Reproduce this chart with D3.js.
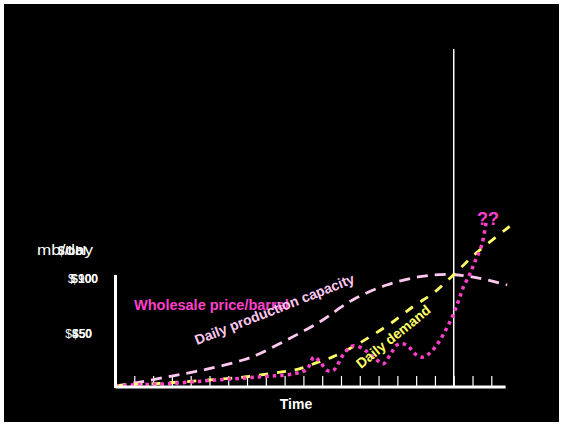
<!DOCTYPE html>
<html><head><meta charset="utf-8">
<script src="https://cdn.jsdelivr.net/npm/d3@7/dist/d3.min.js"></script>
<style>html,body{margin:0;padding:0;background:#fff}</style>
</head><body>
<script>
// Time index (tick units)
const timeTicks = d3.range(1, 21);
const marketTime = 18; // vertical marker

// Daily production capacity (mb/day)
const capacityT = [0, 1.13, 2.99, 4.92, 6.79, 7.51, 9.11, 10.88, 12.64, 14.43, 16.2, 17.8, 19.4, 20.84];
const capacityV = [0, 27, 81, 138, 211, 251, 373, 521, 700, 819, 886, 905, 873, 819];

// Daily demand (mb/day)
const demandT = [0, 1.3, 2.37, 3.43, 5.03, 6.98, 8.85, 9.82, 10.71, 11.59, 12.66, 13.7, 14.77, 15.83, 16.9, 17.98, 19.22, 20.73, 21];
const demandV = [0, 16, 22, 32, 49, 75, 114, 141, 189, 238, 319, 414, 521, 643, 752, 900, 1081, 1265, 1297];

// Wholesale price ($/bbl)
const priceT = [0, 0.95, 2.72, 5.03, 7.51, 9.46, 10.18, 10.56, 10.88, 11.26, 11.59, 12.12, 12.59, 13.01, 13.38, 13.81, 14.25, 14.61, 14.98, 15.3, 15.62, 15.94, 16.31, 16.68, 17.1, 17.53, 17.91, 18.24, 18.51, 18.86, 19.13, 19.49, 19.72];
const priceV = [0, 1, 2, 5, 8, 11, 15, 26, 22, 14, 14, 28, 36, 35, 31, 25, 20, 28, 37, 38, 35, 29, 26, 29, 37, 49, 62, 76, 89, 101, 112, 127, 147];

// Axis labels
const volumeTicks = [450, 900];
const volumeTickLabels = ["$450", "$ 900"];
const priceTicks = [50, 100];
const priceTickLabels = ["$50", "$100"];

const W = 563, H = 426;
const svg = d3.select("body").append("svg").attr("width", W).attr("height", H);
svg.append("rect").attr("x", 0).attr("y", 0).attr("width", W).attr("height", H).attr("fill", "#fff");
svg.append("rect").attr("x", 4).attr("y", 4).attr("width", W - 8).attr("height", H - 8).attr("fill", "#000");

const x = d3.scaleLinear().domain([0, 21]).range([115.5, 510.1]);
const yVol = d3.scaleLinear().domain([0, 900]).range([386, 275]);
const yPrice = d3.scaleLinear().domain([0, 100]).range([386, 275]);

const font = "'Liberation Sans', Arial, sans-serif";

// vertical marker
svg.append("line").attr("x1", x(marketTime)).attr("x2", x(marketTime))
  .attr("y1", 49).attr("y2", 386).attr("stroke", "#fff").attr("stroke-width", 1.5);

// ticks
const xAxis = d3.axisTop(x).tickValues(timeTicks).tickSize(10).tickFormat("");
const gx = svg.append("g").attr("transform", "translate(0,386)").call(xAxis);
gx.select(".domain").remove();
gx.selectAll(".tick line").attr("stroke", "#fff").attr("stroke-width", 1.2);

// series
const curve = d3.curveCatmullRom.alpha(0.5);
const lineCap = d3.line().x((d, i) => x(capacityT[i])).y(d => yVol(d)).curve(curve);
const lineDem = d3.line().x((d, i) => x(demandT[i])).y(d => yVol(d)).curve(curve);
const linePrice = d3.line().x((d, i) => x(priceT[i])).y(d => yPrice(d)).curve(curve);

svg.append("path").attr("d", lineCap(capacityV)).attr("fill", "none")
  .attr("stroke", "#ffc8f0").attr("stroke-width", 2.8).attr("stroke-dasharray", "11,7");
svg.append("path").attr("d", lineDem(demandV)).attr("fill", "none")
  .attr("stroke", "#ffff66").attr("stroke-width", 2.8).attr("stroke-dasharray", "9,9");
svg.append("path").attr("d", linePrice(priceV)).attr("fill", "none")
  .attr("stroke", "#ff40cc").attr("stroke-width", 3.5).attr("stroke-dasharray", "3.5,4");

// axes lines
svg.append("line").attr("x1", x(0)).attr("x2", x(20.76)).attr("y1", 387).attr("y2", 387)
  .attr("stroke", "#fff").attr("stroke-width", 3);
svg.append("line").attr("x1", x(0)).attr("x2", x(0)).attr("y1", yVol(900)).attr("y2", 388)
  .attr("stroke", "#fff").attr("stroke-width", 3);

// y labels
const labelRight = [92, 98];
volumeTicks.forEach((v, i) => {
  svg.append("text").attr("x", labelRight[i]).attr("y", yVol(v) + 7.5).attr("text-anchor", "end")
    .attr("font-family", font).attr("font-size", 12).attr("fill", "#fff").text(volumeTickLabels[i]);
});
priceTicks.forEach((v, i) => {
  svg.append("text").attr("x", labelRight[i]).attr("y", yPrice(v) + 7.5).attr("text-anchor", "end")
    .attr("font-family", font).attr("font-size", 12).attr("font-weight", "bold").attr("fill", "#fff").text(priceTickLabels[i]);
});
svg.append("text").attr("x", 37).attr("y", 255)
  .attr("textLength", 56).attr("lengthAdjust", "spacingAndGlyphs")
  .attr("font-family", font).attr("font-size", 14).attr("fill", "#fff").text("mb/day");
svg.append("text").attr("x", 72).attr("y", 255).attr("text-anchor", "middle")
  .attr("font-family", font).attr("font-size", 12).attr("font-weight", "bold").attr("fill", "#fff").text("$/bbl");

// x label
svg.append("text").attr("x", 296).attr("y", 409).attr("text-anchor", "middle")
  .attr("font-family", font).attr("font-size", 14).attr("font-weight", "bold").attr("fill", "#fff").text("Time");

// series labels
svg.append("text").attr("x", 134).attr("y", 310)
  .attr("font-family", font).attr("font-size", 14.5).attr("font-weight", "bold").attr("fill", "#ff40cc").text("Wholesale price/barrel");
svg.append("text").attr("transform", "translate(197,345) rotate(-21.5)")
  .attr("font-family", font).attr("font-size", 14).attr("font-weight", "bold").attr("fill", "#ffc8f0").text("Daily production capacity");
svg.append("text").attr("transform", "translate(361,369) rotate(-39)")
  .attr("font-family", font).attr("font-size", 14).attr("font-weight", "bold").attr("fill", "#ffff66").text("Daily demand");
svg.append("text").attr("x", 488).attr("y", 225).attr("text-anchor", "middle")
  .attr("font-family", font).attr("font-size", 18).attr("font-weight", "bold").attr("fill", "#ff40cc").text("??");
</script>
</body></html>
